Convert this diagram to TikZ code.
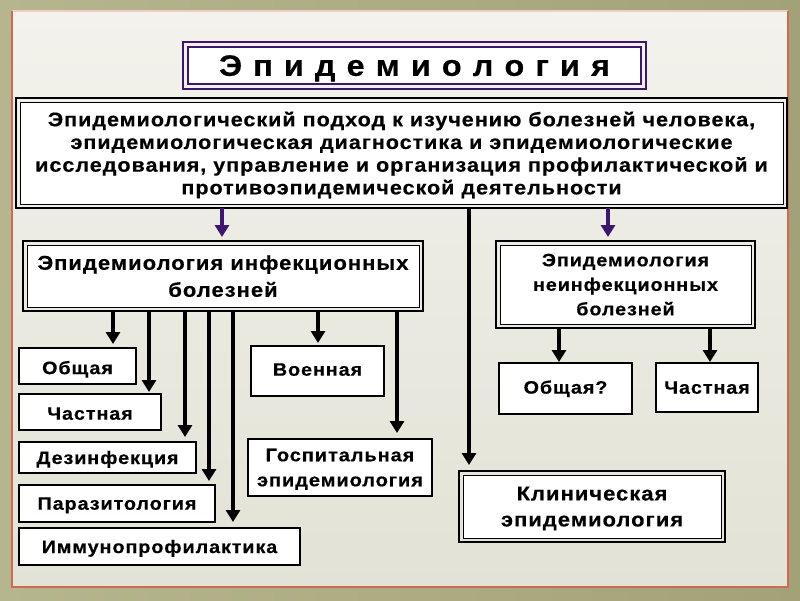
\documentclass[tikz,border=0pt]{standalone}
\usepackage{fontspec}
\setmainfont{Liberation Sans}[LetterSpace=5,FakeStretch=1.1,BoldFeatures={FakeBold=0.4}]
\usetikzlibrary{arrows.meta,calc}
\definecolor{oliveA}{HTML}{B6B68E}
\definecolor{oliveB}{HTML}{A3A177}
\definecolor{panelA}{HTML}{F3F2EC}
\definecolor{panelB}{HTML}{E3E2D6}
\definecolor{framec}{HTML}{CD6B52}
\definecolor{framet}{HTML}{EBCFC2}
\definecolor{purp}{HTML}{3E1670}
\begin{document}
\begin{tikzpicture}[x=1pt,y=-1pt,font=\bfseries,
  box/.style={draw=black,line width=2.5pt,fill=white,inner sep=0pt,outer sep=0pt,anchor=north west,align=center,text depth=0pt},
  dbox/.style={draw=black,line width=1pt,fill=white,inner sep=0pt,outer sep=0pt,anchor=north west,align=center,text depth=0pt},
  dout/.style={draw=black,line width=2.5pt},
  arr/.style={draw=black,line width=4pt,-{Triangle[width=14pt,length=12pt]}},
  parr/.style={draw=purp,line width=4pt,-{Triangle[width=14pt,length=12pt]}},
  fS/.style={font=\bfseries\fontsize{18}{23}\selectfont}]
% background
\useasboundingbox (0,0) rectangle (800,600);
\shade[left color=oliveA,right color=oliveB] (0,0) rectangle (800,600);
\shade[top color=panelA,bottom color=panelB] (12,11) rectangle (788,587);
\draw[framet,line width=1.5pt] (12,11) -- (788,11);
\draw[framec,line width=2pt] (12,11) -- (12,587) -- (788,587) -- (788,11);

% title
\node[draw=purp,line width=1.5pt,fill=white,inner sep=0pt,outer sep=0pt,anchor=north west,text depth=0pt,
      minimum width=453pt,minimum height=37pt,font=\bfseries\fontsize{29.5}{36}\selectfont\addfontfeatures{LetterSpace=7}] (title) at (188,47)
      {Э п и д е м и о л о г и я};
\draw[purp,line width=1.5pt] ($(title.north west)+(-5,-5)$) rectangle ($(title.south east)+(5,5)$);

% main box
\node[dbox,font=\bfseries\fontsize{19.6}{22.7}\selectfont,minimum width=763pt,minimum height=102pt] (main) at (20,102)
  {Эпидемиологический подход к изучению болезней человека,\\
   эпидемиологическая диагностика и эпидемиологические\\
   исследования, управление и организация профилактической и\\
   противоэпидемической деятельности};
\draw[dout] ($(main.north west)+(-4,-4)$) rectangle ($(main.south east)+(4,4)$);

% second level
\node[dbox,font=\bfseries\fontsize{20}{27}\selectfont,minimum width=392pt,minimum height=62pt] (inf) at (27,245)
  {Эпидемиология инфекционных\\болезней};
\draw[dout] ($(inf.north west)+(-4,-4)$) rectangle ($(inf.south east)+(4,4)$);

\node[dbox,font=\bfseries\fontsize{18}{24.5}\selectfont,minimum width=251pt,minimum height=79pt] (ninf) at (500,245)
  {Эпидемиология\\неинфекционных\\болезней};
\draw[dout] ($(ninf.north west)+(-4,-4)$) rectangle ($(ninf.south east)+(4,4)$);

\node[dbox,font=\bfseries\fontsize{20}{26}\selectfont,minimum width=258pt,minimum height=63pt] (clin) at (463,475)
  {Клиническая\\эпидемиология};
\draw[dout] ($(clin.north west)+(-4,-4)$) rectangle ($(clin.south east)+(4,4)$);

% small boxes
\node[box,fS,minimum width=117pt,minimum height=36pt] (obsh) at (19,348) {\raisebox{-3pt}{Общая}};
\node[box,fS,minimum width=142pt,minimum height=36pt] (chast) at (19,394) {\raisebox{-3pt}{Частная}};
\node[box,fS,minimum width=177pt,minimum height=31pt] (dez) at (19,442) {Дезинфекция};
\node[box,fS,minimum width=196pt,minimum height=37pt] (paraz) at (19,485) {Паразитология};
\node[box,fS,minimum width=281pt,minimum height=37pt] (immun) at (19,528) {Иммунопрофилактика};
\node[box,fS,minimum width=133pt,minimum height=50pt] (voen) at (251,346) {\raisebox{3pt}{Военная}};
\node[box,font=\bfseries\fontsize{18.2}{25}\selectfont,minimum width=184pt,minimum height=57pt] (gosp) at (248,439) {Госпитальная\\эпидемиология};
\node[box,fS,minimum width=133pt,minimum height=51pt] (obsh2) at (499,363) {\raisebox{3pt}{Общая?}};
\node[box,fS,minimum width=102pt,minimum height=49pt] (chast2) at (656,363) {Частная};

% column coordinates
\coordinate (cP1) at (222,0);
\coordinate (cP2) at (608,0);
\coordinate (cL) at (469,0);
\coordinate (c1) at (113,0);
\coordinate (c2) at (149,0);
\coordinate (c3) at (185,0);
\coordinate (c4) at (209,0);
\coordinate (c5) at (233,0);
\coordinate (c6) at (318,0);
\coordinate (c7) at (397,0);
\coordinate (c8) at (559,0);
\coordinate (c9) at (710,0);

% connectors
\draw[parr,shorten <=4pt,shorten >=8pt] (main.south -| cP1) -- (inf.north -| cP1);
\draw[parr,shorten <=4pt,shorten >=8pt] (main.south -| cP2) -- (ninf.north -| cP2);
\draw[arr,shorten <=4pt,shorten >=10pt] (main.south -| cL) -- (clin.north -| cL);

\draw[arr,shorten <=4pt,shorten >=4pt] (inf.south -| c1) -- (obsh.north -| c1);
\draw[arr,shorten <=4pt,shorten >=2pt] (inf.south -| c2) -- (chast.north -| c2);
\draw[arr,shorten <=4pt,shorten >=5pt] (inf.south -| c3) -- (dez.north -| c3);
\draw[arr,shorten <=4pt,shorten >=4pt] (inf.south -| c4) -- (paraz.north -| c4);
\draw[arr,shorten <=4pt,shorten >=6pt] (inf.south -| c5) -- (immun.north -| c5);
\draw[arr,shorten <=4pt,shorten >=3pt] (inf.south -| c6) -- (voen.north -| c6);
\draw[arr,shorten <=4pt,shorten >=6pt] (inf.south -| c7) -- (gosp.north -| c7);

\draw[arr,shorten <=4pt,shorten >=1pt] (ninf.south -| c8) -- (obsh2.north -| c8);
\draw[arr,shorten <=4pt,shorten >=1pt] (ninf.south -| c9) -- (chast2.north -| c9);
\end{tikzpicture}
\end{document}
